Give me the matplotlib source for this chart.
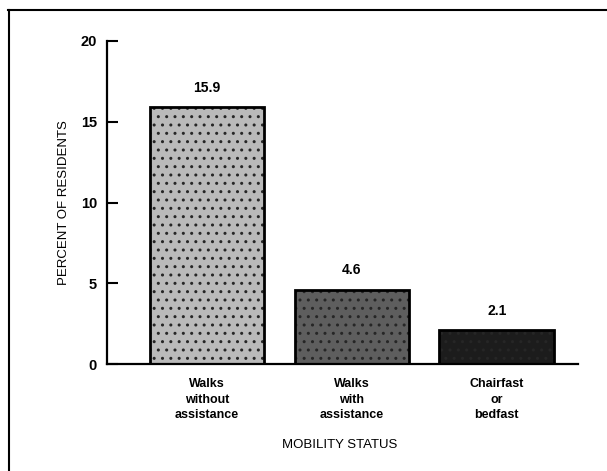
import matplotlib
matplotlib.use("Agg")
import matplotlib.pyplot as plt
from matplotlib.lines import Line2D

categories = ["Walks\nwithout\nassistance", "Walks\nwith\nassistance", "Chairfast\nor\nbedfast"]
values = [15.9, 4.6, 2.1]
value_labels = ["15.9", "4.6", "2.1"]
yticks = [0, 5, 10, 15, 20]
bar_colors = ["#bababa", "#5e5e5e", "#1c1c1c"]

plt.rcParams['font.family'] = ['Liberation Sans', 'DejaVu Sans']

fig = plt.figure(figsize=(6.07, 4.71), dpi=100)
ax = fig.add_axes([0.176, 0.227, 0.776, 0.686])

x = list(range(len(values)))
bars = ax.bar(x, values, width=0.79, color=bar_colors, edgecolor="black",
              linewidth=2.0, hatch="..", zorder=2)
for b in bars:
    b._hatch_color = (0.15, 0.15, 0.15, 1.0)

for xi, v, lab in zip(x, values, value_labels):
    ax.annotate(lab, (xi, v), xytext=(0, 9), textcoords="offset points",
                ha="center", va="bottom", fontsize=10, fontweight="bold")

ax.set_xlim(-0.69, 2.56)
ax.set_ylim(0, 20)
ax.set_yticks(yticks)
ax.set_yticklabels([str(t) for t in yticks], fontsize=10.5, fontweight="bold")
ax.set_xticks(x)
ax.set_xticklabels(categories, fontsize=9, fontweight="bold", linespacing=1.4)
ax.tick_params(axis="y", direction="in", length=8, width=1.5, pad=7)
ax.tick_params(axis="x", length=0, pad=10)

for s in ["top", "right"]:
    ax.spines[s].set_visible(False)
ax.spines["left"].set_linewidth(1.6)
ax.spines["bottom"].set_linewidth(1.6)

ax.set_ylabel("PERCENT OF RESIDENTS", fontsize=9.5, labelpad=8)
fig.text(340 / 607, 1 - 445 / 471, "MOBILITY STATUS", fontsize=9.5,
         ha="center", va="center")

# page frame
fig.add_artist(Line2D([8 / 607, 1.0], [1 - 10 / 471] * 2, color="black", lw=1.5,
                      transform=fig.transFigure))
fig.add_artist(Line2D([9 / 607] * 2, [0.0, 1 - 10 / 471], color="black", lw=1.5,
                      transform=fig.transFigure))

fig.savefig("out.png", dpi=100)
